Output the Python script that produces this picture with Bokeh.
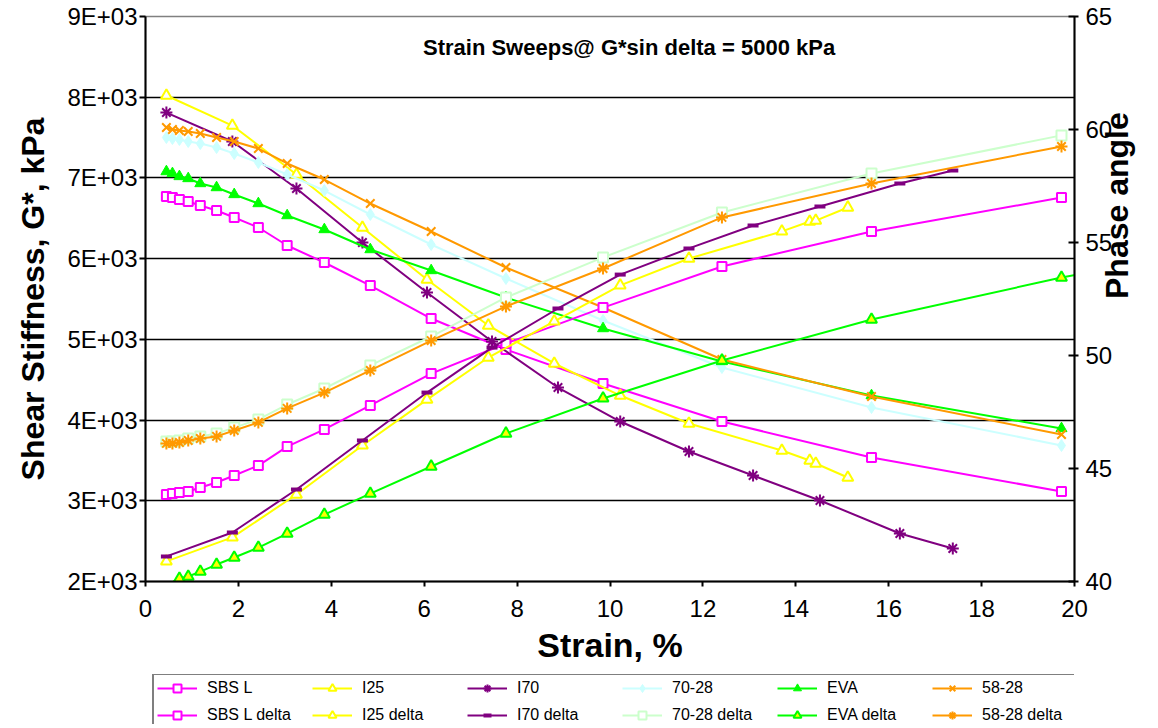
import math
from bokeh.plotting import figure
from bokeh.layouts import column
from bokeh.models import Range1d, LinearAxis, FixedTicker, Legend, LegendItem, Label
from bokeh.embed import file_html
from bokeh.resources import INLINE

# ---------------- data ----------------
strain = [0.45, 0.58, 0.73, 0.92, 1.18, 1.53, 1.91, 2.43, 3.05, 3.85, 4.84, 6.15, 7.76, 9.85, 12.41, 15.63, 19.72]
strain_eva_delta = [0.45, 0.58, 0.73, 0.92, 1.18, 1.53, 1.91, 2.43, 3.05, 3.85, 4.84, 6.15, 7.76, 9.85, 12.41, 15.63, 19.72, 23.0]
strain_i25 = [0.45, 1.87, 3.25, 4.67, 6.06, 7.38, 8.80, 10.22, 11.70, 13.70, 14.30, 14.43, 15.12]
strain_i70 = [0.45, 1.87, 3.25, 4.67, 6.06, 7.46, 8.88, 10.22, 11.70, 13.08, 14.52, 16.24, 17.38]

sbs_g = [6770, 6757, 6733, 6708, 6658, 6596, 6510, 6386, 6163, 5952, 5667, 5258, 4874, 4453, 3982, 3536, 3115]
i25_g = [8021, 7649, 7042, 6386, 5741, 5172, 4701, 4304, 3957, 3623, 3499, 3462, 3288]
i70_g = [7810, 7451, 6869, 6200, 5580, 4973, 4403, 3982, 3611, 3313, 3004, 2595, 2409]
s7028_g = [7501, 7488, 7476, 7451, 7426, 7377, 7302, 7191, 7042, 6844, 6547, 6175, 5754, 5234, 4651, 4156, 3685]
eva_g = [7079, 7055, 7018, 6993, 6931, 6881, 6795, 6683, 6534, 6361, 6113, 5853, 5518, 5134, 4726, 4304, 3896]
s5828_g = [7625, 7600, 7587, 7575, 7550, 7501, 7451, 7364, 7179, 6980, 6683, 6336, 5890, 5395, 4750, 4292, 3821]

sbs_d = [43.85, 43.89, 43.94, 43.98, 44.16, 44.38, 44.69, 45.13, 45.97, 46.73, 47.79, 49.20, 50.53, 52.12, 53.94, 55.49, 56.99]
i25_d = [40.89, 41.95, 43.85, 46.02, 48.05, 49.91, 51.51, 53.10, 54.29, 55.49, 55.93, 55.97, 56.55]
i70_d = [41.11, 42.17, 44.07, 46.24, 48.36, 50.35, 52.08, 53.58, 54.74, 55.75, 56.59, 57.61, 58.19]
s7028_d = [46.20, 46.20, 46.24, 46.33, 46.42, 46.55, 46.81, 47.17, 47.83, 48.54, 49.56, 50.84, 52.57, 54.34, 56.33, 58.05, 59.74]
eva_d = [39.90, 39.97, 40.13, 40.22, 40.44, 40.75, 41.06, 41.50, 42.12, 42.96, 43.89, 45.09, 46.55, 48.10, 49.78, 51.59, 53.45, 54.66]
s5828_d = [46.11, 46.11, 46.15, 46.24, 46.33, 46.42, 46.68, 47.04, 47.66, 48.36, 49.34, 50.66, 52.17, 53.85, 56.11, 57.61, 59.25]

y_ticks = [2000, 3000, 4000, 5000, 6000, 7000, 8000, 9000]
y_tick_labels = ["2E+03", "3E+03", "4E+03", "5E+03", "6E+03", "7E+03", "8E+03", "9E+03"]
x_ticks = [0, 2, 4, 6, 8, 10, 12, 14, 16, 18, 20]
phase_ticks = [40, 45, 50, 55, 60, 65]

MAG = "#FF00FF"
YEL = "#FFFF00"
PUR = "#800080"
CYA = "#CCFFFF"
GRN = "#00FF00"
ORA = "#FF9900"
LGR = "#CCFFCC"

FONT = "Liberation Sans"

p = figure(width=1156, height=674, x_range=Range1d(0, 20), y_range=Range1d(2000, 9000),
           output_backend="svg", toolbar_location=None,
           min_border_left=145, min_border_right=81, min_border_top=16, min_border_bottom=93)
p.extra_y_ranges = {"phase": Range1d(40, 65)}
p.background_fill_color = "white"
p.outline_line_color = "#808080"
p.outline_line_width = 1.5

def style_axis(ax, label, tick_in, tick_out, standoff, lab_standoff, lab_size):
    ax.axis_label = label
    ax.axis_label_text_font = FONT
    ax.axis_label_text_font_style = "bold"
    ax.axis_label_text_font_size = lab_size
    ax.axis_label_text_color = "black"
    ax.axis_label_standoff = lab_standoff
    ax.major_label_text_font = FONT
    ax.major_label_text_font_size = "24px"
    ax.major_label_text_color = "black"
    ax.major_label_standoff = standoff
    ax.axis_line_color = "black"
    ax.axis_line_width = 2
    ax.major_tick_line_color = "black"
    ax.major_tick_line_width = 2
    ax.major_tick_in = tick_in
    ax.major_tick_out = tick_out
    ax.minor_tick_line_color = None

xax = p.xaxis[0]
xax.ticker = FixedTicker(ticks=x_ticks)
style_axis(xax, "Strain, %", 0, 5, 13, 6, "34px")

yax = p.yaxis[0]
yax.ticker = FixedTicker(ticks=y_ticks)
yax.major_label_overrides = {t: s for t, s in zip(y_ticks, y_tick_labels)}
style_axis(yax, "Shear Stiffness, G*, kPa", 0, 6, 2, 13, "32px")

rax = LinearAxis(y_range_name="phase")
rax.ticker = FixedTicker(ticks=phase_ticks)
style_axis(rax, "Phase angle", 6, 4, 7, 2, "32px")
rax.axis_label_orientation = math.pi / 2
rax.axis_label_text_line_height = 0.9
p.add_layout(rax, "right")

p.xgrid.grid_line_color = None
p.ygrid.ticker = FixedTicker(ticks=y_ticks[1:-1])
p.ygrid.grid_line_color = "black"
p.ygrid.grid_line_width = 1.5

# series: name, x, y, range, colour, marker, fill, size, marker line width
series = [
    ("SBS L", strain, sbs_g, "default", MAG, "square", "white", 9, 2),
    ("I25", strain_i25, i25_g, "default", YEL, "triangle", "white", 11, 2),
    ("I70", strain_i70, i70_g, "default", PUR, "asterisk", None, 12, 2),
    ("70-28", strain, s7028_g, "default", CYA, "diamond", CYA, 12, 1),
    ("EVA", strain, eva_g, "default", GRN, "triangle", GRN, 11, 1),
    ("58-28", strain, s5828_g, "default", ORA, "x", None, 12, 2),
    ("SBS L delta", strain, sbs_d, "phase", MAG, "square", "white", 9, 2),
    ("I25 delta", strain_i25, i25_d, "phase", YEL, "triangle", "white", 11, 2),
    ("I70 delta", strain_i70, i70_d, "phase", PUR, "dash", None, 11, 4),
    ("70-28 delta", strain, s7028_d, "phase", LGR, "square", "white", 10, 2),
    ("EVA delta", strain_eva_delta, eva_d, "phase", GRN, "triangle", YEL, 11, 2),
    ("58-28 delta", strain, s5828_d, "phase", ORA, "asterisk", None, 12, 2),
]

# legend strip below the chart
pl = figure(width=1156, height=50, x_range=Range1d(0, 1), y_range=Range1d(0, 1),
            output_backend="svg", toolbar_location=None, x_axis_type=None, y_axis_type=None,
            min_border_left=145, min_border_right=0, min_border_top=0, min_border_bottom=0)
pl.outline_line_color = None
pl.xgrid.grid_line_color = None
pl.ygrid.grid_line_color = None

NAN = float("nan")
items = []
for name, xs, ys, rng, col, mk, fill, sz, mlw in series:
    p.line(xs, ys, y_range_name=rng, line_color=col, line_width=2)
    lo = 40 if rng == "phase" else 2000
    px = [x for x, y in zip(xs, ys) if y >= lo and x <= 20]
    py = [y for x, y in zip(xs, ys) if y >= lo and x <= 20]
    mk_kw = dict(marker=mk, size=sz, line_color=col, line_width=mlw,
                 fill_color=fill if fill else col, fill_alpha=1.0 if fill else 0.0)
    p.scatter(px, py, y_range_name=rng, **mk_kw)
    # legend-only proxies (not visible) in the legend strip
    lr = pl.line([NAN], [NAN], line_color=col, line_width=2)
    sr = pl.scatter([NAN], [NAN], **mk_kw)
    items.append(LegendItem(label=name, renderers=[lr, sr]))

legend = Legend(items=items, location=(7, -6), orientation="horizontal", ncols=6,
                label_text_font=FONT, label_text_font_size="16px", label_text_color="black",
                glyph_width=40, glyph_height=20, label_height=20, label_width=98,
                label_standoff=10, spacing=7, padding=3, margin=0,
                border_line_color="black", border_line_width=2,
                background_fill_color="white", background_fill_alpha=1.0)
pl.add_layout(legend, "center")

title = Label(x=10.41, y=8616, text="Strain Sweeps@ G*sin delta = 5000 kPa",
              text_font=FONT, text_font_style="bold", text_font_size="22px",
              text_align="center", text_baseline="middle", text_color="black")
p.add_layout(title)

layout = column(p, pl, spacing=0)
open("out.html", "w").write(file_html(layout, INLINE))
